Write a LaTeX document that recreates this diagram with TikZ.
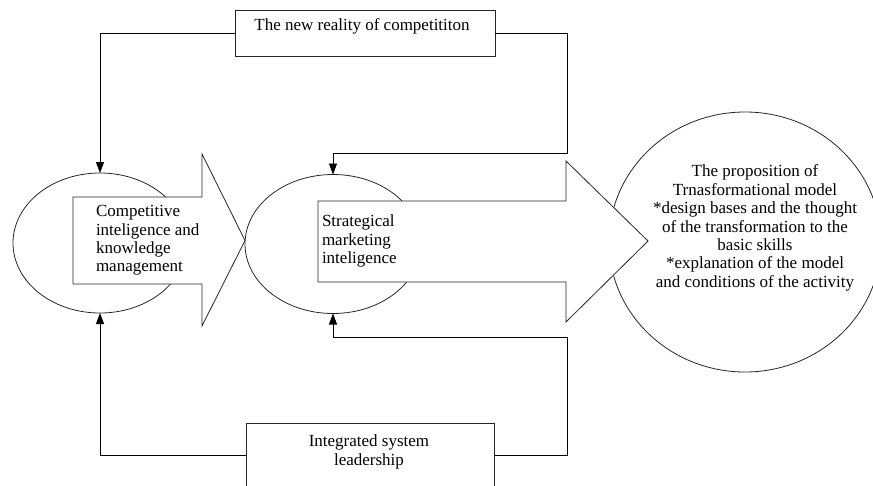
\documentclass[tikz,border=0pt]{standalone}
\usepackage{fontspec}
\setmainfont{Liberation Serif}
\usetikzlibrary{shapes.geometric,arrows.meta}
\begin{document}
\begin{tikzpicture}[x=1pt,y=-1pt,
  line width=0.8pt,
  every node/.style={inner sep=0pt,outer sep=0pt},
  txt/.style={font=\fontsize{17}{18.4}\selectfont,text=black},
  oval/.style={draw=black!85,ellipse,fill=white},
  frame/.style={draw=black!85,rectangle,fill=white},
  bigarrow/.style={draw=black!85,fill=white},
  conn/.style={draw=black,-{Triangle[width=8pt,length=11pt]}}]
\useasboundingbox (0,0) rectangle (873,485);
\clip (0,0) rectangle (873,485);

% first stage: oval with its block arrow
\node[oval,minimum width=174pt,minimum height=140pt] (e1) at (100,243) {};
\draw[bigarrow] (73,197) -- (202,197) -- (202,154) -- (245,240.5)
  -- (202,326) -- (202,284) -- (73,284) -- cycle;
\node[txt,align=left,anchor=west] (t1) at (96,240.5)
  {Competitive\\inteligence and\\knowledge\\management};

% outcome circle
\node[oval,minimum width=272pt,minimum height=260pt] (c3) at (745,242) {};
\node[txt,align=center] (t3) at (755,228)
  {The proposition of\\Trnasformational model\\*design bases and the thought\\of the transformation to the\\basic skills\\*explanation of the model\\and conditions of the activity};

% second stage: oval with its block arrow
\node[oval,minimum width=176pt,minimum height=139pt] (e2) at (333,244) {};
\draw[bigarrow] (318,201) -- (566,201) -- (566,161) -- (648,241)
  -- (566,322) -- (566,282) -- (318,282) -- cycle;
\node[txt,align=left,anchor=west] (t2) at (322,241)
  {Strategical\\marketing\\inteligence};

% driver boxes
\node[frame,minimum width=260pt,minimum height=46pt] (top) at (365,33) {};
\node[txt] (toptext) at (362,26) {The new reality of competititon};
\node[frame,minimum width=248pt,minimum height=64pt] (bot) at (370,455) {};
\node[txt,align=center] (bottext) at (369,452) {Integrated system\\leadership};

% feedback connectors
\coordinate (tr) at (567,153);
\coordinate (br) at (567,337);
\draw[conn] (top.west) -| (e1.north);
\draw[conn] (top.east) -| (tr) -| (e2.north);
\draw[conn] (bot.west) -| (e1.south);
\draw[conn] (bot.east) -| (br) -| (e2.south);
\end{tikzpicture}
\end{document}
